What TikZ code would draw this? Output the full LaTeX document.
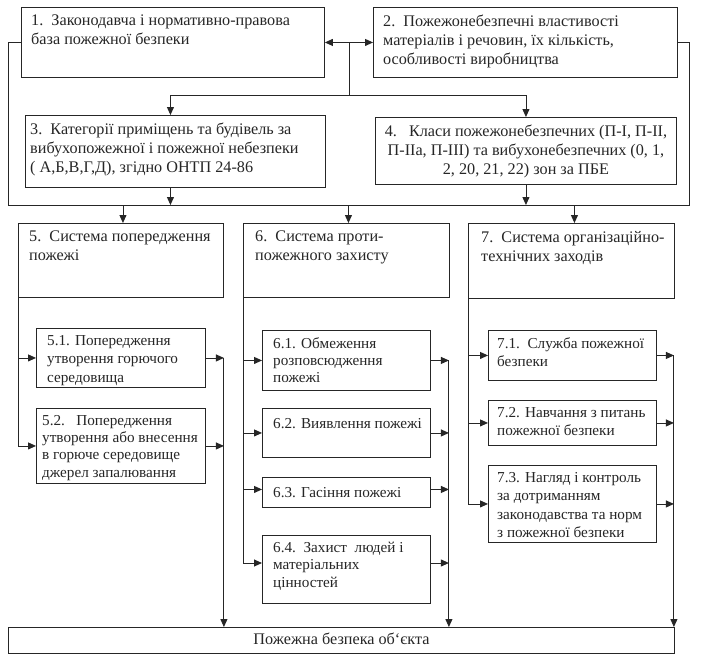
\documentclass[tikz,border=0pt]{standalone}
\usepackage{fontspec}
\setmainfont{Liberation Serif}
\usetikzlibrary{arrows.meta,calc}
\newcommand{\bx}[5]{\node[box, minimum width={#4-#2}, minimum height={#5-#3}] (#1) at (#2,#3) {};}
\tikzset{
  box/.style={draw=black!85, line width=0.9pt, anchor=north west, inner sep=0pt, fill=white},
  txt/.style={anchor=north west, align=left, inner sep=0pt, text=black!85,
     font=\fontsize{16.2}{19}\selectfont, execute at begin node=\strut},
  stxt/.style={txt, font=\fontsize{15.2}{18.5}\selectfont},
  sstxt/.style={txt, font=\fontsize{15.2}{17.3}\selectfont},
  ctxt/.style={txt, anchor=north, align=center},
  ln/.style={draw=black!85, line width=0.9pt},
  arr/.style={ln, -{Triangle[length=8pt,width=7pt]}},
  arrb/.style={ln, {Triangle[length=8pt,width=7pt]}-{Triangle[length=8pt,width=7pt]}}
}
\begin{document}
\begin{tikzpicture}[x=1pt,y=-1pt]
\useasboundingbox[fill=white] (0,0) rectangle (713,657);
% boxes
\bx{b1}{21}{7}{324}{77}
\bx{b2}{373}{7}{677}{77}
\bx{b3}{25}{115}{325}{187}
\bx{b4}{375}{117}{676}{184}
\bx{b5}{18}{223}{223}{297}
\bx{b6}{243}{223}{449}{297}
\bx{b7}{468}{223}{674}{298}
\bx{b51}{36}{328}{205}{387}
\bx{b52}{36}{408}{205}{483}
\bx{b61}{262}{330}{430}{390}
\bx{b62}{262}{408}{430}{457}
\bx{b63}{262}{477}{430}{507}
\bx{b64}{262}{535}{430}{603}
\bx{b71}{488}{330}{656}{380}
\bx{b72}{488}{400}{656}{445}
\bx{b73}{488}{465}{656}{542}
\bx{bot}{8}{627}{674}{653}
% texts
\node[txt] (t1) at ([shift={(10pt,-8pt)}]b1.north west) {1.\ \ Законодавча і нормативно-правова\\база пожежної безпеки};
\node[txt] (t2) at ([shift={(10pt,-8pt)}]b2.north west) {2.\ \ Пожежонебезпечні властивості\\матеріалів і речовин, їх кількість,\\особливості виробництва};
\node[txt] (t3) at ([shift={(5pt,-8pt)}]b3.north west) {3.\ \ Категорії приміщень та будівель за\\вибухопожежної і пожежної небезпеки\\( А,Б,В,Г,Д), згідно ОНТП 24-86};
\node[ctxt] (t4) at ([shift={(0pt,-8pt)}]b4.north) {4.\ \ \ Класи пожежонебезпечних (П-І, П-ІІ,\\П-ІІа, П-ІІІ) та вибухонебезпечних (0, 1,\\2, 20, 21, 22) зон за ПБЕ};
\node[txt] (t5) at ([shift={(11pt,-8pt)}]b5.north west) {5.\ \ Система попередження\\пожежі};
\node[txt] (t6) at ([shift={(12pt,-8pt)}]b6.north west) {6.\ \ Система проти-\\пожежного захисту};
\node[txt] (t7) at ([shift={(13pt,-8pt)}]b7.north west) {7.\ \ Система організаційно-\\технічних заходів};
\node[stxt] (t51) at ([shift={(11pt,-7pt)}]b51.north west) {5.1. Попередження\\утворення горючого\\середовища};
\node[sstxt] (t52) at ([shift={(6pt,-7pt)}]b52.north west) {5.2.\ \ \ Попередження\\утворення або внесення\\в горюче середовище\\джерел запалювання};
\node[sstxt] (t61) at ([shift={(11pt,-7pt)}]b61.north west) {6.1. Обмеження\\розповсюдження\\пожежі};
\node[stxt] (t62) at ([shift={(11pt,-7pt)}]b62.north west) {6.2. Виявлення пожежі};
\node[stxt] (t63) at ([shift={(11pt,-7pt)}]b63.north west) {6.3. Гасіння пожежі};
\node[sstxt] (t64) at ([shift={(11pt,-7pt)}]b64.north west) {6.4.\ \ Захист\ \ людей і\\матеріальних\\цінностей};
\node[stxt] (t71) at ([shift={(9pt,-7pt)}]b71.north west) {7.1.\ \ Служба пожежної\\безпеки};
\node[stxt] (t72) at ([shift={(9pt,-7pt)}]b72.north west) {7.2. Навчання з питань\\пожежної безпеки};
\node[stxt] (t73) at ([shift={(9pt,-7pt)}]b73.north west) {7.3. Нагляд і контроль\\за дотриманням\\законодавства та норм\\з пожежної безпеки};
\node[ctxt, anchor=center, execute at begin node={}] (tb) at (bot.center) {Пожежна безпека об‘єкта};
% top connectors
\draw[arrb] (b1.east) -- (b2.west);
\coordinate (j12) at ($(b1.east)!0.5!(b2.west)$);
\coordinate (bus1) at (j12 |- 0,95);
\draw[ln] (j12) -- (bus1);
\draw[arr] (bus1) -| ([xshift=-5pt]b3.north);
\draw[arr] (bus1) -| (b4.north);
\coordinate (busL) at (8,205);
\coordinate (busR) at (689,205);
\draw[ln] (b1.west) -| (busL) -- (busR) |- (b2.east);
\draw[arr] ([xshift=-5pt]b3.south) -- ([xshift=-5pt]b3.south |- busL);
\draw[arr] (b4.south) -- (b4.south |- busL);
\draw[arr] ([xshift=2pt]b5.north |- busL) -- ([xshift=2pt]b5.north);
\draw[arr] ([xshift=2pt]b6.north |- busL) -- ([xshift=2pt]b6.north);
\draw[arr] ([xshift=3pt]b7.north |- busL) -- ([xshift=3pt]b7.north);
% group 5
\draw[ln] (b5.south west) -- (b5.south west |- b52.west);
\draw[arr] (b5.south west |- b51.west) -- (b51.west);
\draw[arr] (b5.south west |- b52.west) -- (b52.west);
\coordinate (c5) at (b51.east -| b5.east);
\draw[arr] (b51.east) -- (c5);
\draw[arr] (b52.east) -- (b52.east -| c5);
\draw[arr] (c5) -- (c5 |- bot.north);
% group 6
\draw[ln] (b6.south west) -- (b6.south west |- 0,563);
\draw[arr] (b6.south west |- b61.west) -- (b61.west);
\draw[arr] (b6.south west |- b62.west) -- (b62.west);
\draw[arr] ([yshift=3pt]b6.south west |- b63.west) -- ([yshift=3pt]b63.west);
\draw[arr] (b6.south west |- 0,563) -- (b64.west |- 0,563);
\coordinate (c6) at ([xshift=-1pt]b61.east -| b6.east);
\draw[arr] (b61.east) -- (c6);
\draw[arr] (b62.east) -- (b62.east -| c6);
\draw[arr] ([yshift=3pt]b63.east) -- ([yshift=3pt]b63.east -| c6);
\draw[arr] (b64.east |- 0,563) -- (c6 |- 0,563);
\draw[arr] (c6) -- (c6 |- bot.north);
% group 7
\draw[ln] (b7.south west) -- (b7.south west |- b73.west);
\draw[arr] (b7.south west |- b71.west) -- (b71.west);
\draw[arr] (b7.south west |- b72.west) -- (b72.west);
\draw[arr] (b7.south west |- b73.west) -- (b73.west);
\coordinate (c7) at ([xshift=-1pt]b71.east -| b7.east);
\draw[arr] (b71.east) -- (c7);
\draw[arr] (b72.east) -- (b72.east -| c7);
\draw[arr] (b73.east) -- (b73.east -| c7);
\draw[arr] (c7) -- (c7 |- bot.north);
\end{tikzpicture}
\end{document}
